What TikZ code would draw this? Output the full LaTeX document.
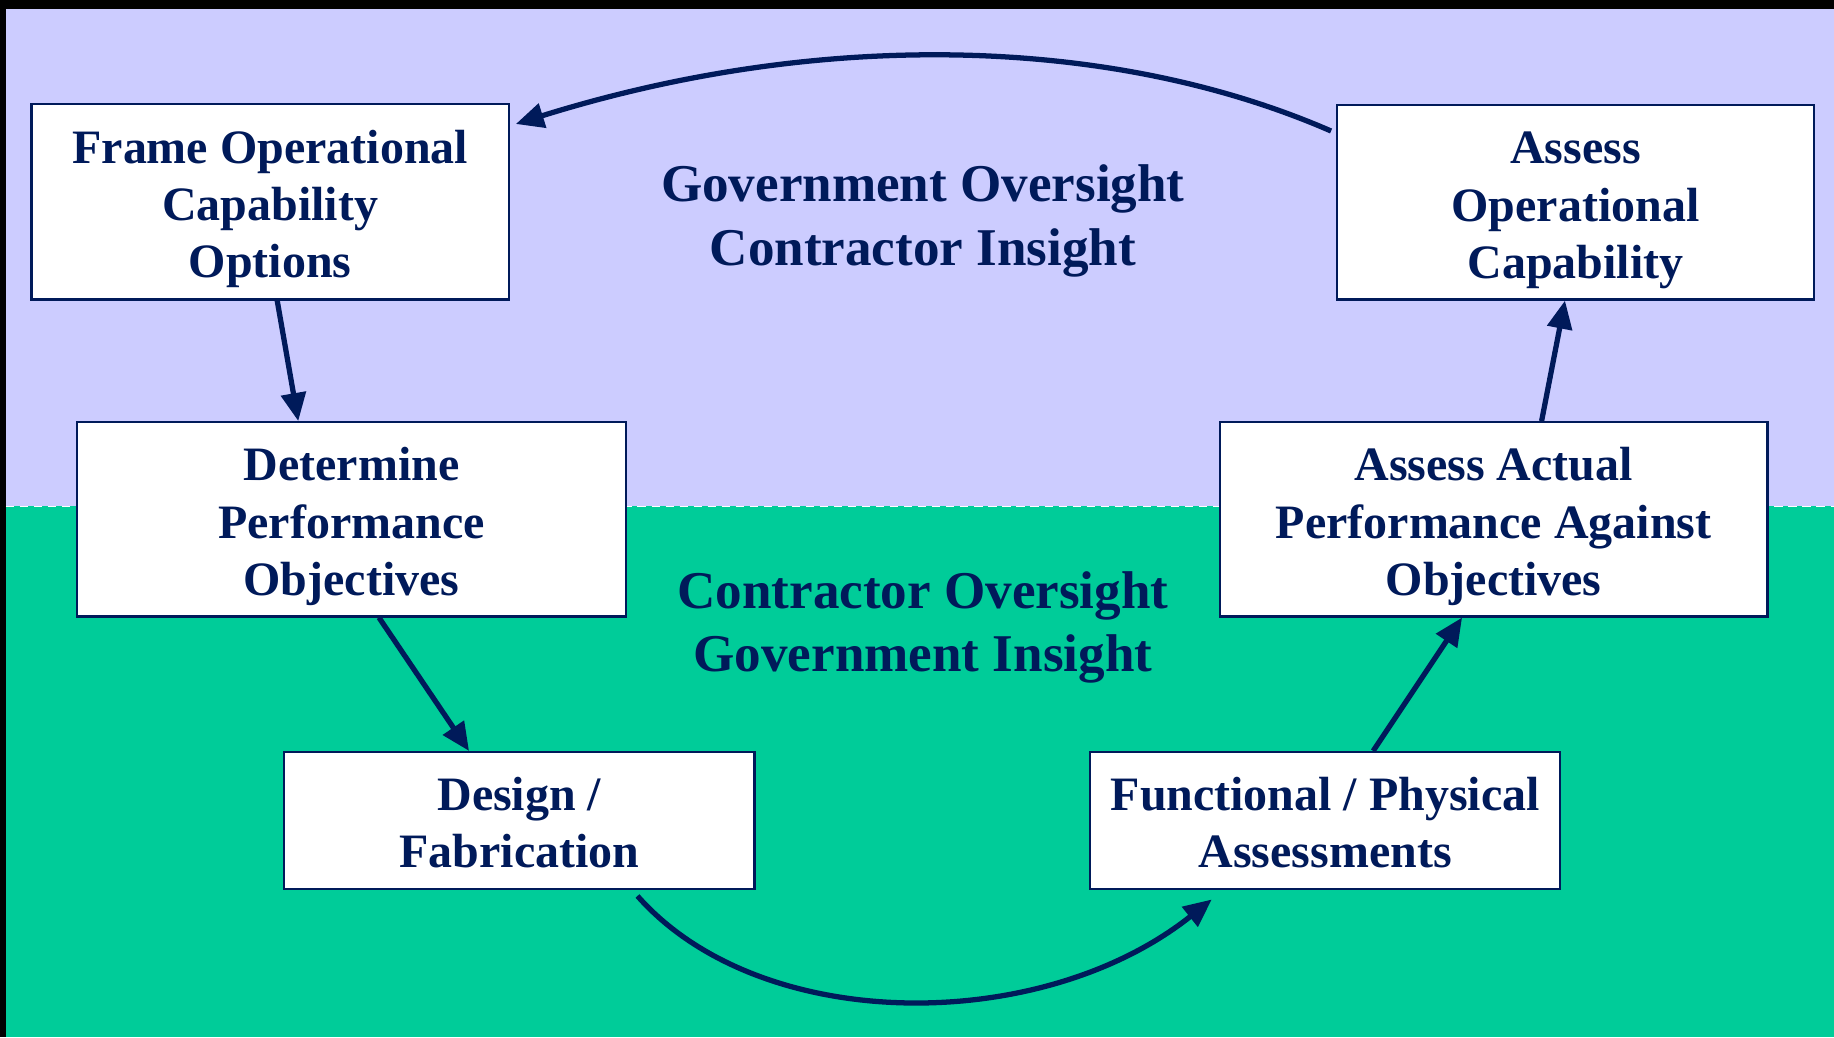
\documentclass[tikz,border=0pt]{standalone}
\usepackage{fontspec}
\setmainfont{Liberation Serif}
\usetikzlibrary{arrows.meta}
\definecolor{lav}{HTML}{CCCCFF}
\definecolor{grn}{HTML}{00CC99}
\definecolor{navy}{RGB}{0,26,90}
\newcommand{\topstrutA}{\rule{0pt}{41pt}}
\newcommand{\topstrutB}{\rule{0pt}{32pt}}
\tikzset{
  stepbox/.style={draw=navy, line width=2pt, fill=white, align=center, text=navy,
    font=\fontsize{41}{49}\selectfont\bfseries, inner sep=0pt},
  zonelabel/.style={align=center, text=navy, font=\fontsize{45.4}{54.5}\selectfont\bfseries, inner sep=0pt},
  conn/.style={draw=navy, line width=4.5pt, -{Triangle[length=24pt,width=21pt]}}
}
\begin{document}
\begin{tikzpicture}[x=1pt,y=-1pt]
\useasboundingbox (0,0) rectangle (1568,887);
\fill[black] (0,0) rectangle (1568,887);
\fill[lav] (5,8) rectangle (1568,433);
\fill[grn] (5,433) rectangle (1568,887);
\draw[white, line width=1.5pt, dash pattern=on 7pt off 5pt] (5,433) -- (1568,433);

\node[stepbox, minimum width=408pt, minimum height=167pt] (frame) at (231,172.5) {\topstrutA Frame Operational\\Capability\\Options};
\node[stepbox, minimum width=408pt, minimum height=166pt] (assessop) at (1347,173) {\topstrutA Assess\\Operational\\Capability};
\node[stepbox, minimum width=469pt, minimum height=166pt] (determine) at (300.5,444) {\topstrutA Determine\\Performance\\Objectives};
\node[stepbox, minimum width=468pt, minimum height=166pt] (actual) at (1277,444) {\topstrutA Assess Actual\\Performance Against\\Objectives};
\node[stepbox, minimum width=402pt, minimum height=117pt] (design) at (444,701.5) {\topstrutB Design /\\Fabrication};
\node[stepbox, minimum width=402pt, minimum height=117pt] (functional) at (1133,701.5) {\topstrutB Functional / Physical\\Assessments};

\node[zonelabel] (govtop) at (789,189) {Government Oversight\\Contractor Insight};
\node[zonelabel] (contrbot) at (789,536.5) {Contractor Oversight\\Government Insight};

\draw[conn] ([xshift=-4pt,yshift=61pt]assessop.west) .. controls (950,30) and (700,25) .. ([xshift=5pt,yshift=66.5pt]frame.east);
\draw[conn] ([xshift=6pt]frame.south) -- ([xshift=-45.5pt]determine.north);
\draw[conn] ([xshift=23.5pt]determine.south) -- ([xshift=-43pt]design.north);
\draw[conn] ([xshift=101pt,yshift=-5pt]design.south) .. controls (650,885) and (890,885) .. ([xshift=-97pt,yshift=-8pt]functional.south);
\draw[conn] ([xshift=41pt]functional.north) -- ([xshift=-27pt]actual.south);
\draw[conn] ([xshift=41pt]actual.north) -- ([xshift=-9pt]assessop.south);
\end{tikzpicture}
\end{document}
